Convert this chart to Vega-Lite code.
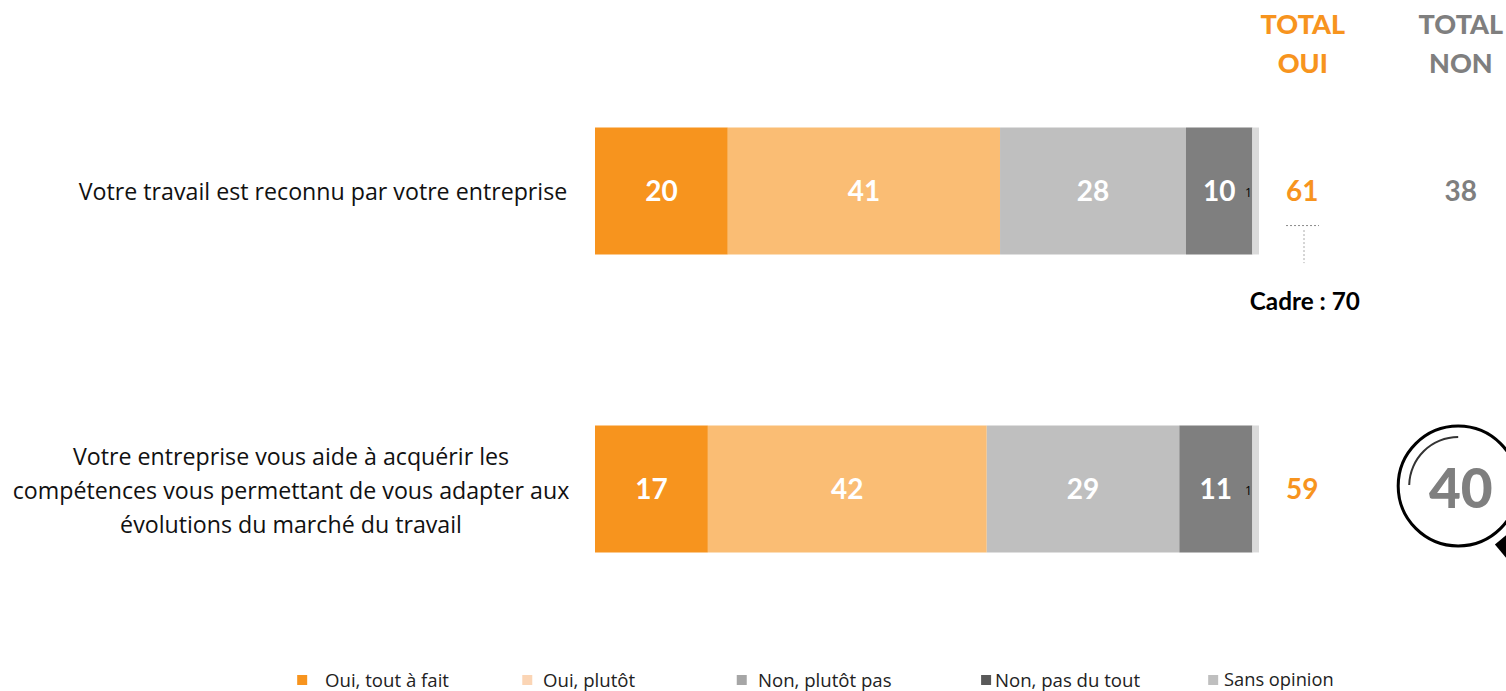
{"$schema":"https://vega.github.io/schema/vega-lite/v6.json","width":1506,"height":691,"autosize":{"type":"none"},"padding":0,"background":"white","config":{"view":{"stroke":null},"text":{"font":"Lato","dy":2}},
"layer":[
{"data":{"values":[
{"row":1,"cat":"Oui, tout à fait","value":20},{"row":1,"cat":"Oui, plutôt","value":41},{"row":1,"cat":"Non, plutôt pas","value":28},{"row":1,"cat":"Non, pas du tout","value":10},{"row":1,"cat":"Sans opinion","value":1},
{"row":2,"cat":"Oui, tout à fait","value":17},{"row":2,"cat":"Oui, plutôt","value":42},{"row":2,"cat":"Non, plutôt pas","value":29},{"row":2,"cat":"Non, pas du tout","value":11},{"row":2,"cat":"Sans opinion","value":1}]},
"transform":[{"stack":"value","groupby":["row"],"as":["v0","v1"]}],
"layer":[
{"mark":{"type":"bar","size":127,"orient":"horizontal"},"encoding":{
"x":{"field":"v0","type":"quantitative","axis":null,"scale":{"domain":[-89.61,137.2],"nice":false,"zero":false,"padding":0}},"x2":{"field":"v1"},
"y":{"field":"row","type":"quantitative","axis":null,"scale":{"domain":[0.359,2.678],"reverse":true,"nice":false,"zero":false,"padding":0}},
"color":{"field":"cat","type":"nominal","legend":null,"scale":{"domain":["Oui, tout à fait","Oui, plutôt","Non, plutôt pas","Non, pas du tout","Sans opinion"],"range":["#F7941E","#FABD74","#BFBFBF","#7F7F7F","#DADADA"]}}}},
{"transform":[{"filter":"datum.value>1"},{"fold":["v0","v1"],"as":["edge","pos"]}],"mark":{"type":"text","font":"Lato","fontWeight":"bold","fontSize":28,"color":"white"},"encoding":{"x":{"aggregate":"mean","field":"pos","type":"quantitative"},"y":{"field":"row","type":"quantitative"},"text":{"field":"value","type":"quantitative"}}}
]},
{"data":{"values":[{"row":1,"oui":61,"non":38,"one":1},{"row":2,"oui":59,"non":40,"one":1}]},
"layer":[
{"mark":{"type":"text","fontSize":12,"color":"black","font":"Open Sans"},"encoding":{"x":{"datum":98.4,"type":"quantitative"},"y":{"field":"row","type":"quantitative"},"text":{"field":"one","type":"quantitative"}}},
{"mark":{"type":"text","fontSize":28,"fontWeight":"bold","color":"#F7941E"},"encoding":{"x":{"datum":106.5,"type":"quantitative"},"y":{"field":"row","type":"quantitative"},"text":{"field":"oui","type":"quantitative"}}},
{"transform":[{"filter":"datum.row==1"}],"mark":{"type":"text","fontSize":28,"fontWeight":"bold","color":"#7F7F7F"},"encoding":{"x":{"datum":130.4,"type":"quantitative"},"y":{"field":"row","type":"quantitative"},"text":{"field":"non","type":"quantitative"}}},
{"transform":[{"filter":"datum.row==2"}],"mark":{"type":"text","fontSize":55,"fontWeight":900,"color":"#7F7F7F"},"encoding":{"x":{"datum":130.4,"type":"quantitative"},"y":{"field":"row","type":"quantitative"},"text":{"field":"non","type":"quantitative"}}}
]},
{"data":{"values":[{"t":"Votre travail est reconnu par votre entreprise"}]},"mark":{"type":"text","font":"Open Sans","fontSize":23.2,"color":"#111111"},"encoding":{"x":{"datum":-40.96,"type":"quantitative"},"y":{"datum":1,"type":"quantitative"},"text":{"field":"t"}}},
{"data":{"values":[{"t":"Votre entreprise vous aide à acquérir les|compétences vous permettant de vous adapter aux|évolutions du marché du travail"}]},"mark":{"type":"text","font":"Open Sans","fontSize":23.2,"color":"#111111","lineBreak":"|","lineHeight":34},"encoding":{"x":{"datum":-45.78,"type":"quantitative"},"y":{"datum":1.889,"type":"quantitative"},"text":{"field":"t"}}},
{"data":{"values":[{"t":"TOTAL|OUI"}]},"mark":{"type":"text","fontSize":27,"fontWeight":900,"color":"#F7941E","lineBreak":"|","lineHeight":39},"encoding":{"x":{"datum":106.6,"type":"quantitative"},"y":{"datum":0.4396,"type":"quantitative"},"text":{"field":"t"}}},
{"data":{"values":[{"t":"TOTAL|NON"}]},"mark":{"type":"text","fontSize":27,"fontWeight":900,"color":"#7F7F7F","lineBreak":"|","lineHeight":39},"encoding":{"x":{"datum":130.4,"type":"quantitative"},"y":{"datum":0.4396,"type":"quantitative"},"text":{"field":"t"}}},
{"data":{"values":[{"t":"Cadre : 70"}]},"mark":{"type":"text","fontSize":24.3,"fontWeight":"bold","color":"black"},"encoding":{"x":{"datum":106.9,"type":"quantitative"},"y":{"datum":1.369,"type":"quantitative"},"text":{"field":"t"}}},
{"data":{"values":[{}]},"mark":{"type":"rule","color":"#888888","strokeDash":[2,2],"strokeWidth":1},"encoding":{"x":{"datum":104.07,"type":"quantitative"},"x2":{"datum":109.04},"y":{"datum":1.116,"type":"quantitative"}}},
{"data":{"values":[{}]},"mark":{"type":"rule","color":"#AAAAAA","strokeDash":[2,2],"strokeWidth":1},"encoding":{"x":{"datum":106.78,"type":"quantitative"},"y":{"datum":1.131,"type":"quantitative"},"y2":{"datum":1.242}}},
{"data":{"values":[{}]},"mark":{"type":"point","shape":"circle","size":14400,"filled":false,"stroke":"black","strokeWidth":3,"opacity":1,"clip":true},"encoding":{"x":{"datum":130.0,"type":"quantitative"},"y":{"datum":1.99,"type":"quantitative"}}},
{"data":{"values":[{}]},"mark":{"type":"arc","radius":50,"radius2":48,"theta":-1.55,"theta2":0,"color":"#333333"},"encoding":{"x":{"datum":130.0,"type":"quantitative"},"y":{"datum":1.99,"type":"quantitative"}}},
{"data":{"values":[{}]},"mark":{"type":"rule","color":"black","strokeWidth":15,"clip":true},"encoding":{"x":{"datum":136.4,"type":"quantitative"},"y":{"datum":2.17,"type":"quantitative"},"x2":{"datum":139},"y2":{"datum":2.24}}},
{"data":{"values":[{"t":"Oui, tout à fait"}]},"layer":[{"mark":{"type":"square","size":100,"color":"#F7941E","opacity":1},"encoding":{"x":{"datum":-44.1,"type":"quantitative"},"y":{"datum":2.641,"type":"quantitative"}}},{"mark":{"type":"text","align":"left","font":"Open Sans","fontSize":18.6,"color":"#222222","dy":1},"encoding":{"x":{"datum":-40.66,"type":"quantitative"},"y":{"datum":2.641,"type":"quantitative"},"text":{"field":"t"}}}]},
{"data":{"values":[{"t":"Oui, plutôt"}]},"layer":[{"mark":{"type":"square","size":100,"color":"#FBD5B5","opacity":1},"encoding":{"x":{"datum":-10.2,"type":"quantitative"},"y":{"datum":2.641,"type":"quantitative"}}},{"mark":{"type":"text","align":"left","font":"Open Sans","fontSize":18.6,"color":"#222222","dy":1},"encoding":{"x":{"datum":-7.83,"type":"quantitative"},"y":{"datum":2.641,"type":"quantitative"},"text":{"field":"t"}}}]},
{"data":{"values":[{"t":"Non, plutôt pas"}]},"layer":[{"mark":{"type":"square","size":100,"color":"#A6A6A6","opacity":1},"encoding":{"x":{"datum":22.1,"type":"quantitative"},"y":{"datum":2.641,"type":"quantitative"}}},{"mark":{"type":"text","align":"left","font":"Open Sans","fontSize":18.6,"color":"#222222","dy":1},"encoding":{"x":{"datum":24.55,"type":"quantitative"},"y":{"datum":2.641,"type":"quantitative"},"text":{"field":"t"}}}]},
{"data":{"values":[{"t":"Non, pas du tout"}]},"layer":[{"mark":{"type":"square","size":100,"color":"#595959","opacity":1},"encoding":{"x":{"datum":58.9,"type":"quantitative"},"y":{"datum":2.641,"type":"quantitative"}}},{"mark":{"type":"text","align":"left","font":"Open Sans","fontSize":18.6,"color":"#222222","dy":1},"encoding":{"x":{"datum":60.24,"type":"quantitative"},"y":{"datum":2.641,"type":"quantitative"},"text":{"field":"t"}}}]},
{"data":{"values":[{"t":"Sans opinion"}]},"layer":[{"mark":{"type":"square","size":100,"color":"#BFBFBF","opacity":1},"encoding":{"x":{"datum":93.1,"type":"quantitative"},"y":{"datum":2.641,"type":"quantitative"}}},{"mark":{"type":"text","align":"left","font":"Open Sans","fontSize":18.3,"color":"#222222","dy":1},"encoding":{"x":{"datum":94.73,"type":"quantitative"},"y":{"datum":2.641,"type":"quantitative"},"text":{"field":"t"}}}]}
]}
